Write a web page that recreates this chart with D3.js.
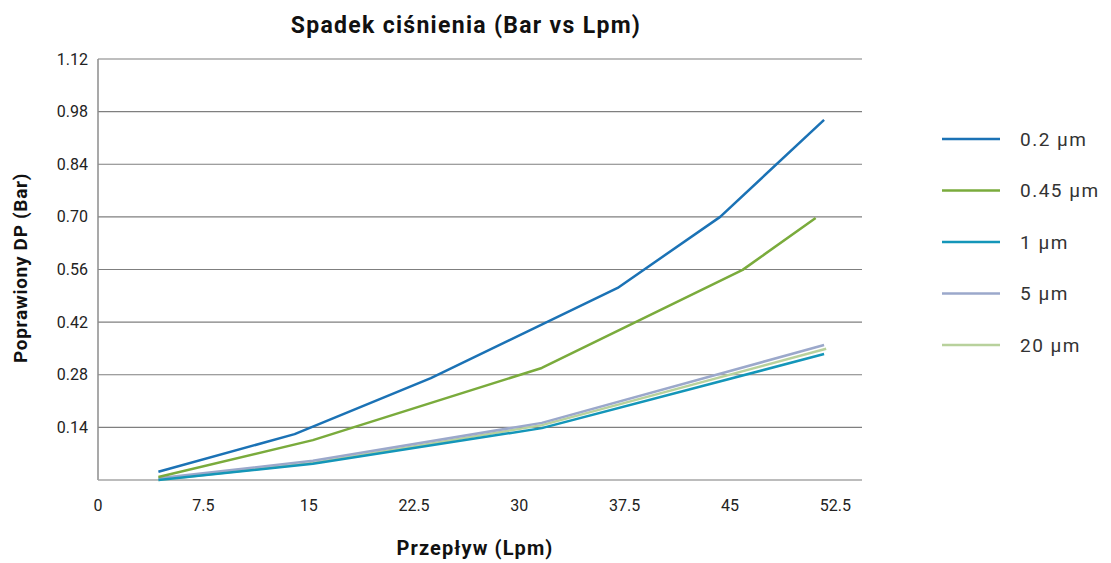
<!DOCTYPE html>
<html>
<head>
<meta charset="utf-8">
<script src="https://cdn.jsdelivr.net/npm/d3@7"></script>
<style>
  body { margin: 0; background: #fff; }
  svg { display: block; font-family: Roboto, "DejaVu Sans", sans-serif; }
</style>
</head>
<body>
<svg id="chart" width="1111" height="563"></svg>
<script>
// ---- data ----
const seriesNames = ["0.2 µm", "0.45 µm", "1 µm", "5 µm", "20 µm"];
const seriesColors = ["#1b72b5", "#7aab3c", "#1496b9", "#9ba8cb", "#b8d19c"];
const flow02 = [4.3, 14.0, 23.7, 37.0, 44.3, 51.7];
const dp02   = [0.022, 0.122, 0.271, 0.511, 0.700, 0.958];
const flow045 = [4.3, 15.3, 31.6, 45.9, 51.1];
const dp045   = [0.008, 0.106, 0.298, 0.559, 0.697];
const flow1 = [4.3, 15.3, 31.6, 51.7];
const dp1   = [0.000, 0.043, 0.138, 0.335];
const flow5 = [4.3, 15.3, 31.6, 51.7];
const dp5   = [0.005, 0.051, 0.152, 0.359];
const flow20 = [4.3, 15.3, 31.6, 51.85];
const dp20   = [0.000, 0.045, 0.146, 0.349];
const xTicks = [0, 7.5, 15, 22.5, 30, 37.5, 45, 52.5];
const yTicks = [0.14, 0.28, 0.42, 0.56, 0.70, 0.84, 0.98, 1.12];
const yTickLabels = ["0.14", "0.28", "0.42", "0.56", "0.70", "0.84", "0.98", "1.12"];
const title = "Spadek ciśnienia (Bar vs Lpm)";
const xTitle = "Przepływ (Lpm)";
const yTitle = "Poprawiony DP (Bar)";

const flows = [flow02, flow045, flow1, flow5, flow20];
const dps = [dp02, dp045, dp1, dp5, dp20];
const series = seriesNames.map((n, i) => ({
  name: n, color: seriesColors[i],
  points: flows[i].map((f, j) => ({ x: f, y: dps[i][j] }))
}));

// ---- layout ----
const svg = d3.select("#chart");
const pLeft = 98, pRight = 862, pTop = 59, pBottom = 480;
const x = d3.scaleLinear().domain([0, 54.4]).range([pLeft, pRight]);
const y = d3.scaleLinear().domain([0, 1.12]).range([pBottom, pTop]);

// gridlines
svg.append("g").selectAll("line").data(yTicks).join("line")
  .attr("x1", pLeft).attr("x2", pRight)
  .attr("y1", d => y(d)).attr("y2", d => y(d))
  .attr("stroke", "#7f7f7f").attr("stroke-width", 1.2);

// y axis line
svg.append("line").attr("x1", pLeft).attr("x2", pLeft).attr("y1", pTop).attr("y2", pBottom)
  .attr("stroke", "#8c8c8c").attr("stroke-width", 1.5);
// x axis line
svg.append("line").attr("x1", pLeft).attr("x2", pRight).attr("y1", pBottom).attr("y2", pBottom)
  .attr("stroke", "#a6a6a6").attr("stroke-width", 1.5);

// y tick labels
svg.append("g").selectAll("text").data(yTicks).join("text")
  .attr("x", 88).attr("y", d => y(d)).attr("dy", "0.35em")
  .attr("text-anchor", "end").attr("font-size", 16).attr("fill", "#222")
  .text((d, i) => yTickLabels[i]);

// x tick labels
svg.append("g").selectAll("text").data(xTicks).join("text")
  .attr("x", d => x(d)).attr("y", 511)
  .attr("text-anchor", "middle").attr("font-size", 16).attr("fill", "#222")
  .text(d => d);

// lines
const line = d3.line().x(d => x(d.x)).y(d => y(d.y));
svg.append("g").selectAll("path").data(series.slice().reverse()).join("path")
  .attr("d", d => line(d.points))
  .attr("fill", "none").attr("stroke", d => d.color)
  .attr("stroke-width", 2.5).attr("stroke-linejoin", "round");

// titles
svg.append("text").attr("x", 466).attr("y", 33).attr("text-anchor", "middle")
  .attr("font-size", 23).attr("font-weight", 700).attr("letter-spacing", 1.3)
  .attr("fill", "#111").text(title);
svg.append("text").attr("x", 475).attr("y", 555).attr("text-anchor", "middle")
  .attr("font-size", 20).attr("font-weight", 700).attr("letter-spacing", 1.1)
  .attr("fill", "#111").text(xTitle);
svg.append("text").attr("transform", "translate(27,268) rotate(-90)").attr("text-anchor", "middle")
  .attr("font-size", 19).attr("font-weight", 700).attr("letter-spacing", 0.7)
  .attr("fill", "#111").text(yTitle);

// legend
const lg = svg.append("g").selectAll("g").data(series).join("g")
  .attr("transform", (d, i) => `translate(942, ${139 + i * 51.5})`);
lg.append("line").attr("x1", 0).attr("x2", 58).attr("y1", 0).attr("y2", 0)
  .attr("stroke", d => d.color).attr("stroke-width", 2.5);
lg.append("text").attr("x", 78).attr("y", 0).attr("dy", "0.35em")
  .attr("font-size", 19).attr("letter-spacing", 1.5).attr("fill", "#333").text(d => d.name);
</script>
</body>
</html>
